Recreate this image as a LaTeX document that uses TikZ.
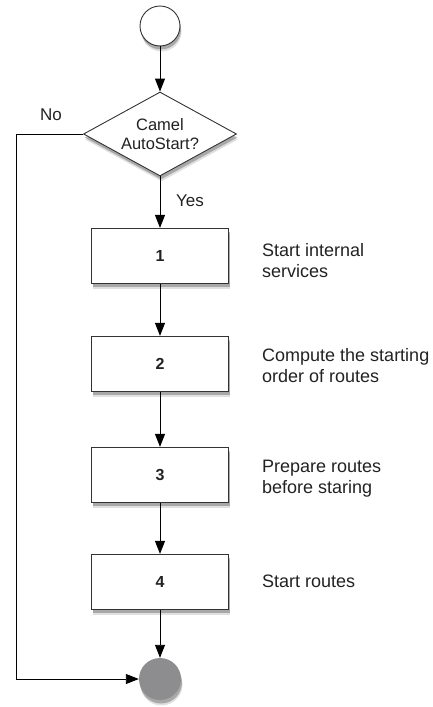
\documentclass[tikz,border=0pt]{standalone}
\usepackage{fontspec}
\setmainfont{Liberation Sans}
\usetikzlibrary{shapes.geometric,arrows.meta,shadows}
\definecolor{ink}{HTML}{222222}
\definecolor{edge}{HTML}{333333}
\definecolor{endgray}{HTML}{8D8D8F}
\begin{document}
\begin{tikzpicture}[x=1pt,y=-1pt,
  shd/.style={
    drop shadow={shadow xshift=1.5pt, shadow yshift=-5.5pt, opacity=0.12, fill=black},
    drop shadow={shadow xshift=1pt, shadow yshift=-3.5pt, opacity=0.25, fill=black}},
  box/.style={draw=edge, line width=1.2pt, fill=white, minimum width=137pt, minimum height=55pt, inner sep=0pt, text=ink, font=\fontsize{16}{19}\selectfont\bfseries, shd},
  dec/.style={diamond, aspect=1.82, draw=edge, line width=0.9pt, fill=white, minimum width=153pt, minimum height=84pt, inner sep=0pt, align=center, text=ink, font=\fontsize{16.5}{19}\selectfont, shd},
  startc/.style={circle, draw=edge, line width=0.9pt, fill=white, minimum size=40pt, inner sep=0pt, shd},
  endc/.style={circle, fill=endgray, minimum size=42pt, inner sep=0pt, shd},
  lbl/.style={text=ink, align=left, inner sep=0pt, font=\fontsize{18}{21}\selectfont},
  arr/.style={draw=black, line width=0.9pt, -{Triangle[length=13pt,width=10pt]}}
]
\useasboundingbox (0,0) rectangle (433,707);

\node[startc] (start) at (160,26) {};
\node[dec] (dec) at (160,134) {Camel\\AutoStart?};
\node[box] (b1) at (160,256) {1};
\node[box] (b2) at (160,364) {2};
\node[box] (b3) at (160,475) {3};
\node[box] (b4) at (160,582) {4};
\node[endc] (end) at (160,679) {};
\coordinate (nc) at (16,679);

\node[lbl, anchor=base west] (l1) at (262,277) {Start internal\\services};
\node[lbl, anchor=base west] (l2) at (262,382) {Compute the starting\\order of routes};
\node[lbl, anchor=base west] (l3) at (262,493) {Prepare routes\\before staring};
\node[lbl, anchor=base west] (l4) at (262,587) {Start routes};
\node[lbl, anchor=base west, font=\fontsize{17}{20}\selectfont] (no) at (40,120) {No};
\node[lbl, anchor=base west, font=\fontsize{17}{20}\selectfont] (yes) at (176,206) {Yes};

\draw[arr] (start) -- (dec);
\draw[arr] (dec) -- (b1);
\draw[arr] (b1) -- (b2);
\draw[arr] (b2) -- (b3);
\draw[arr] (b3) -- (b4);
\draw[arr] (b4) -- (end);
\draw[arr] (dec.west) -| (nc) -- (end);
\end{tikzpicture}
\end{document}
